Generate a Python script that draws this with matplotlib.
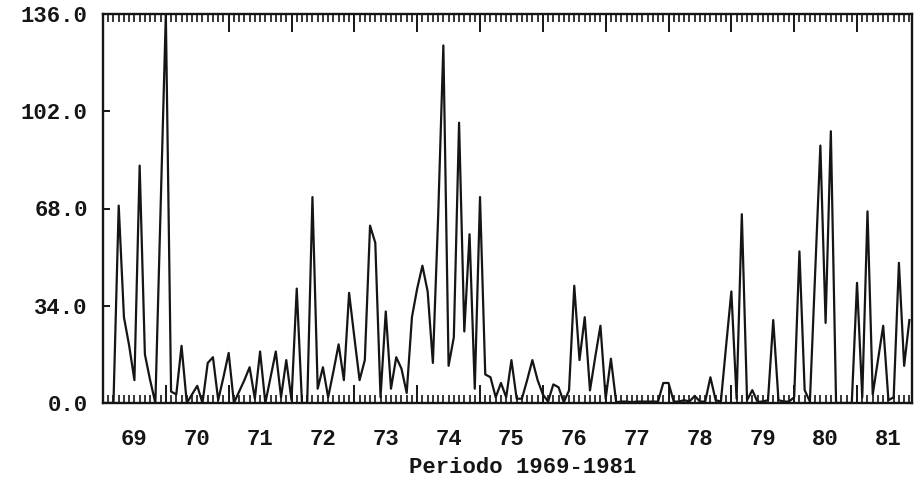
import matplotlib
matplotlib.use("Agg")
import matplotlib.pyplot as plt
import numpy as np
from matplotlib.ticker import FixedLocator, MultipleLocator, NullFormatter

# Monthly series, January 1969 onwards
monthly_values = [
    # 1969
    0, 0, 0, 69, 30, 20, 8, 83, 17, 8, 0, 68,
    # 1970
    136, 4, 3, 20, 0, 3, 6, 0, 14, 16, 1, 9,
    # 1971
    17.5, 0, 4, 8, 12.5, 1.5, 18, 0, 9, 18, 2, 15,
    # 1972
    1, 40, 0, 0, 72, 5, 12.5, 2, 11, 20.5, 8, 38.5,
    # 1973
    23, 8, 15, 62, 56, 2, 32, 5, 16, 12, 3.5, 30,
    # 1974
    40, 48, 39, 14, 65, 125, 13, 23, 98, 25, 59, 5,
    # 1975
    72, 10, 9, 2, 7, 2, 15, 1.5, 1.5, 8, 15, 8,
    # 1976
    3, 0.5, 6.5, 5.5, 0.3, 4.4, 41, 15, 30, 4.4, 16, 27,
    # 1977
    1.5, 15.5, 0.3, 0.5, 0.5, 0.3, 0.5, 0.5, 0.5, 0.5, 0.5, 7,
    # 1978
    7, 0.5, 0.5, 1, 0.5, 2.5, 0.5, 0.5, 9, 1, 0.5, 20,
    # 1979
    39, 1.5, 66, 1, 4.5, 0.4, 0.5, 1, 29, 1, 0.5, 0.5,
    # 1980
    2, 53, 4.5, 0.5, 45, 90, 28, 95, 0, 0, 0, 0,
    # 1981
    42, 2, 67, 3, 15, 27, 1, 2, 49, 13, 29,
]
year_labels = ["69", "70", "71", "72", "73", "74", "75",
               "76", "77", "78", "79", "80", "81"]
y_ticks = [0.0, 34.0, 68.0, 102.0, 136.0]
x_title = "Periodo 1969-1981"

FONT = ["Liberation Mono", "DejaVu Sans Mono"]
FSIZE = 16
INK = "#151515"

months = np.arange(len(monthly_values))

fig = plt.figure(figsize=(9.22, 4.79), dpi=100)
ax = fig.add_axes([103 / 922, 76 / 479, 809 / 922, 389 / 479])

ax.plot(months, monthly_values, color=INK, lw=1.6)

ax.set_xlim(0, 154.5)
ax.set_ylim(0, 136)

for s in ax.spines.values():
    s.set_linewidth(1.7)
    s.set_color(INK)

# x axis: year boundaries (long) and months (short), ticks on both edges
ax.xaxis.set_major_locator(FixedLocator(np.arange(12, 155, 12)))
ax.xaxis.set_minor_locator(MultipleLocator(1))
ax.xaxis.set_major_formatter(NullFormatter())
ax.tick_params(axis="x", which="major", direction="in", length=13,
               width=1.4, top=True, bottom=True, color=INK)
ax.tick_params(axis="x", which="minor", direction="in", length=6,
               width=1.2, top=True, bottom=True, color=INK)

# year names centred in each year
sec = ax.secondary_xaxis("bottom")
sec.set_xticks(np.arange(len(year_labels)) * 12 + 6, year_labels)
sec.tick_params(length=0, pad=19, labelsize=FSIZE)
sec.spines["bottom"].set_visible(False)
for lab in sec.get_xticklabels():
    lab.set_family(FONT)
    lab.set_weight("bold")
    lab.set_color(INK)

# y axis
ax.set_yticks(y_ticks, [f"{v:.1f}" for v in y_ticks])
ax.tick_params(axis="y", direction="in", length=5, width=1.4, pad=11,
               labelsize=FSIZE, color=INK, right=False)
for lab in ax.get_yticklabels():
    lab.set_family(FONT)
    lab.set_weight("bold")
    lab.set_color(INK)

ax.set_xlabel(x_title, fontsize=FSIZE, family=FONT, weight="bold", color=INK)
ax.xaxis.set_label_coords(0.519, -0.14)

fig.savefig("out.png", dpi=100, facecolor="white")
